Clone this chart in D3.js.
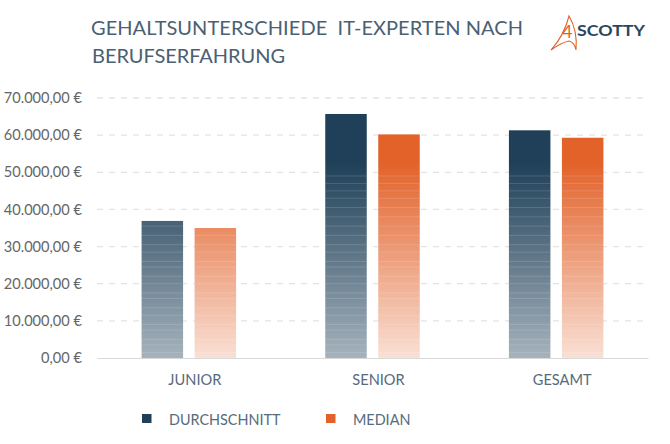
<!DOCTYPE html>
<html>
<head>
<meta charset="utf-8">
<script src="https://cdn.jsdelivr.net/npm/d3@7"></script>
<style>
  html, body { margin: 0; padding: 0; background: #fff; }
  text { font-family: Lato, "Open Sans", sans-serif; }
</style>
</head>
<body>
<div id="chart"></div>
<script>
const categories = ["JUNIOR", "SENIOR", "GESAMT"];
const seriesNames = ["DURCHSCHNITT", "MEDIAN"];
const durchschnitt = [36900, 65700, 61300];
const median = [35000, 60200, 59300];
const yTicks = [0, 10000, 20000, 30000, 40000, 50000, 60000, 70000];
// lighter bands seen across the bars, in euro
const bands = [1500, 3500, 5000, 7500, 9000, 11500, 13500, 16000, 17500, 20000, 22000, 24500, 26000, 28500, 30500, 33000, 35500,
  38000, 40500, 43000, 45000, 47000, 49000];

const width = 670;
const height = 444;
const colors = ["#1f4058", "#e2622a"];

const svg = d3.select("#chart").append("svg")
  .attr("width", width)
  .attr("height", height)
  .style("display", "block");

const x = d3.scaleBand().domain(categories).range([97, 648]);
const y = d3.scaleLinear().domain([0, 70000]).range([358, 98]);
const xInner = d3.scaleBand().domain(seriesNames).range([-47.25, 47.25]).paddingInner(0.217);

// title
const titleColor = "#4a6073";
svg.append("text").attr("x", 91).attr("y", 35).attr("font-size", 20).attr("fill", titleColor)
  .attr("textLength", 432).attr("xml:space", "preserve")
  .text("GEHALTSUNTERSCHIEDE  IT-EXPERTEN NACH");
svg.append("text").attr("x", 92).attr("y", 63).attr("font-size", 20).attr("fill", titleColor)
  .attr("textLength", 193)
  .text("BERUFSERFAHRUNG");

// logo
const logo = svg.append("g").attr("fill", "none").attr("stroke", colors[1]).attr("stroke-width", 1.1);
logo.append("path").attr("d", "M569 16 C566 28 560 40 551 50 C558 45 564 42 569 41 C573 42 575 45 576 50 C577 38 575 26 569 16 Z");
svg.append("text").attr("x", 562).attr("y", 38).attr("font-size", 18).attr("fill", colors[1]).text("4");
svg.append("text").attr("x", 577).attr("y", 36).attr("font-size", 16).attr("font-weight", 700)
  .attr("fill", "#2c465c").attr("textLength", 68).attr("lengthAdjust", "spacingAndGlyphs").text("SCOTTY");

// fade is tied to the plot height, not to each bar
const defs = svg.append("defs");
colors.forEach((c, i) => {
  const grad = defs.append("linearGradient")
    .attr("id", "fade" + i)
    .attr("gradientUnits", "userSpaceOnUse")
    .attr("x1", 0).attr("x2", 0)
    .attr("y1", y(65700)).attr("y2", y(0));
  grad.append("stop").attr("offset", 0).attr("stop-color", c);
  grad.append("stop").attr("offset", 0.2).attr("stop-color", c);
  grad.append("stop").attr("offset", 1).attr("stop-color", c).attr("stop-opacity", i === 0 ? 0.4 : 0.2);
});

// y axis with dashed grid
const yAxis = d3.axisLeft(y)
  .tickValues(yTicks)
  .tickSize(0)
  .tickPadding(0)
  .tickFormat((d) => d3.format(",.2f")(d).replace(/,/g, "#").replace(".", ",").replace(/#/g, ".") + " €");

const yG = svg.append("g").attr("transform", "translate(82,0)").call(yAxis);
yG.select(".domain").remove();
yG.selectAll("text").attr("font-size", 14.6).attr("fill", "#666").style("font-family", "Lato");

svg.append("g").selectAll("line")
  .data(yTicks.slice(1))
  .enter().append("line")
  .attr("x1", 97).attr("x2", 648)
  .attr("y1", (d) => y(d)).attr("y2", (d) => y(d))
  .attr("stroke", "#e4e4e4")
  .attr("stroke-width", 1.3)
  .attr("stroke-dasharray", "6 6");

// bars
const seriesValues = [durchschnitt, median];
seriesValues.forEach((values, s) => {
  const g = svg.append("g");
  g.selectAll("rect")
    .data(values)
    .enter().append("rect")
    .attr("x", (d, i) => x(categories[i]) + x.bandwidth() / 2 + xInner(seriesNames[s]))
    .attr("y", (d) => y(d))
    .attr("width", xInner.bandwidth())
    .attr("height", (d) => y(0) - y(d))
    .attr("fill", "#fff");
  g.selectAll("rect.fill")
    .data(values)
    .enter().append("rect")
    .attr("class", "fill")
    .attr("x", (d, i) => x(categories[i]) + x.bandwidth() / 2 + xInner(seriesNames[s]))
    .attr("y", (d) => y(d))
    .attr("width", xInner.bandwidth())
    .attr("height", (d) => y(0) - y(d))
    .attr("fill", "url(#fade" + s + ")");

  values.forEach((v, i) => {
    g.selectAll(null)
      .data(bands.filter((b) => b < v - 500))
      .enter().append("line")
      .attr("x1", x(categories[i]) + x.bandwidth() / 2 + xInner(seriesNames[s]))
      .attr("x2", x(categories[i]) + x.bandwidth() / 2 + xInner(seriesNames[s]) + xInner.bandwidth())
      .attr("y1", (b) => y(b))
      .attr("y2", (b) => y(b))
      .attr("stroke", "#fff")
      .attr("stroke-opacity", 0.14)
      .attr("stroke-width", 1);
  });
});

// x axis
const xAxis = d3.axisBottom(x).tickSize(0).tickPadding(17);
const xG = svg.append("g").attr("transform", "translate(0,358)").call(xAxis);
xG.select(".domain").attr("stroke", "#d9d9d9").attr("stroke-width", 1.2);
xG.selectAll("text").attr("font-size", 14.6).attr("dx", 6).attr("fill", "#566b7c").style("font-family", "Lato");

// legend
const legendX = [142, 326];
const legendText = [169, 353];
seriesNames.forEach((name, i) => {
  svg.append("rect").attr("x", legendX[i]).attr("y", 414).attr("width", 9.5).attr("height", 9).attr("fill", colors[i]);
  svg.append("text").attr("x", legendText[i]).attr("y", 425).attr("font-size", 14.4).attr("fill", "#566b7c").text(name);
});
</script>
</body>
</html>
